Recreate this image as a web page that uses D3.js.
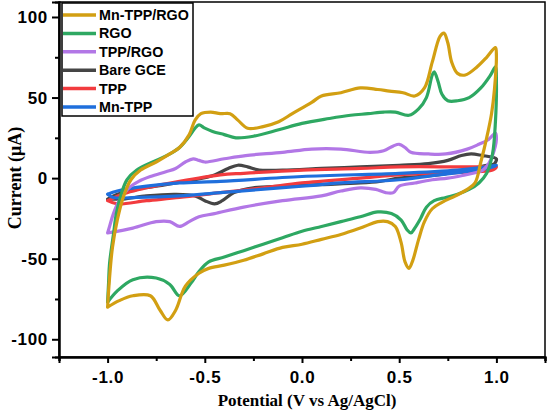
<!DOCTYPE html>
<html>
<head>
<meta charset="utf-8">
<script src="https://cdn.jsdelivr.net/npm/d3@7/dist/d3.min.js"></script>
<style>
body { margin: 0; background: #fff; }
svg { display: block; }
</style>
</head>
<body>
<svg id="chart" width="548" height="411"></svg>
<script>
// ---- Data (potential in V vs Ag/AgCl, current in µA), each a closed CV loop ----
const seriesNames = ["Mn-TPP/RGO", "RGO", "TPP/RGO", "Bare GCE", "TPP", "Mn-TPP"];
const seriesColors = ["#d29f12", "#2ea862", "#b277e6", "#454545", "#f23b3e", "#1f6fdc"];

const mnTppRgoX = [-1.0,-0.99,-0.975,-0.95,-0.92,-0.88,-0.83,-0.75,-0.68,-0.63,-0.58,-0.55,-0.52,-0.47,-0.42,-0.37,-0.33,-0.28,-0.2,-0.12,-0.05,0.05,0.1,0.2,0.3,0.39,0.45,0.52,0.58,0.63,0.67,0.71,0.73,0.75,0.77,0.8,0.84,0.9,0.95,0.995,
  1.0,0.99,0.975,0.95,0.92,0.89,0.85,0.79,0.72,0.67,0.63,0.6,0.57,0.55,0.53,0.51,0.48,0.44,0.39,0.3,0.2,0.1,0.0,-0.1,-0.2,-0.3,-0.4,-0.48,-0.53,-0.6,-0.65,-0.69,-0.73,-0.78,-0.87,-0.94,-1.0];
const mnTppRgoY = [-80,-62,-43,-26,-12,-1,5,10,15,19,27,36,40,41,40,40,36,31,32,35,40,47,51,53,56,55,54,53,51,56,72,88,90,84,72,65,64,69,75,81,
  76,55,40,25,10,-3,-7,-11,-15,-19,-27,-38,-51,-56,-52,-40,-30,-27,-27,-31,-35,-38,-41,-43,-47,-51,-54,-56,-59,-67,-82,-88,-82,-73,-73,-76,-80];

const rgoX = [-1.0,-0.995,-0.99,-0.97,-0.955,-0.93,-0.9,-0.85,-0.75,-0.68,-0.63,-0.58,-0.55,-0.53,-0.5,-0.46,-0.4,-0.34,-0.25,-0.12,0.0,0.14,0.25,0.34,0.42,0.48,0.55,0.6,0.64,0.67,0.68,0.7,0.72,0.75,0.8,0.86,0.92,0.97,0.995,
  1.0,0.995,0.98,0.95,0.91,0.86,0.8,0.74,0.68,0.64,0.61,0.58,0.56,0.54,0.51,0.46,0.39,0.3,0.2,0.1,0.0,-0.1,-0.2,-0.3,-0.4,-0.48,-0.53,-0.57,-0.63,-0.68,-0.75,-0.87,-0.95,-1.0];
const rgoY = [-77,-65,-53,-35,-22,-10,-1,5,11,15,19,26,31,33,31,29,27,25,26,30,34,37,39,40,41,41,39,43,50,64,66,60,52,48,48,50,56,64,69,
  60,35,15,3,-3,-7,-10,-12,-14,-18,-25,-31,-34,-32,-26,-22,-21,-24,-27,-30,-33,-37,-41,-45,-49,-52,-58,-65,-73,-66,-62,-63,-70,-77];

const tppRgoX = [-1.0,-0.99,-0.97,-0.94,-0.89,-0.84,-0.78,-0.7,-0.65,-0.6,-0.56,-0.53,-0.5,-0.4,-0.29,-0.1,0.05,0.2,0.35,0.42,0.47,0.5,0.53,0.56,0.65,0.74,0.85,0.91,0.96,0.995,
  1.0,0.98,0.96,0.93,0.88,0.84,0.75,0.67,0.58,0.5,0.47,0.43,0.38,0.3,0.2,0.1,-0.1,-0.3,-0.45,-0.53,-0.58,-0.63,-0.68,-0.75,-0.87,-1.0];
const tppRgoY = [-34,-30,-22,-14,-6,-2,1,4,6,10,12,11,10,12,14,16,18,18,16,17,20,21,19,16,15,15,18,21,24,28,
  24,14,9,5,3,2,0,-1,-3,-5,-9,-9,-7,-6,-8,-11,-14,-18,-22,-24,-27,-30,-27,-27,-31,-34];

const bareGceX = [-1.0,-0.95,-0.85,-0.7,-0.55,-0.45,-0.38,-0.33,-0.28,-0.22,-0.1,0.1,0.3,0.5,0.65,0.75,0.82,0.87,0.93,0.98,1.0,
  0.99,0.95,0.88,0.8,0.7,0.6,0.5,0.4,0.3,0.1,-0.1,-0.25,-0.35,-0.41,-0.45,-0.5,-0.55,-0.65,-0.8,-0.92,-1.0];
const bareGceY = [-13,-10,-7,-4,-1,2,6,8,7,5,5,6,7,8,9,11,14,15,14,13,12,
  9,8,6,4,2,1,0,-2,-3,-4,-5,-6,-9,-14,-16,-14,-11,-10,-11,-13,-13];

const tppX = [-1.0,-0.9,-0.8,-0.63,-0.42,-0.3,0.0,0.3,0.5,0.8,0.95,1.0,
  0.98,0.9,0.7,0.5,0.3,0.0,-0.2,-0.42,-0.63,-0.8,-0.95,-1.0];
const tppY = [-14,-9,-6,-2,2,3,5,6,7,7,7,7,
  5,4,3,2,0,-3,-6,-9,-12,-14,-16,-14];

const mnTppX = [-1.0,-0.95,-0.8,-0.63,-0.42,0.0,0.5,0.8,0.95,1.0,
  0.98,0.9,0.7,0.5,0.2,0.0,-0.42,-0.63,-0.85,-0.97,-1.0];
const mnTppY = [-10,-8,-5,-3,-2,1,3,5,7,8,
  7,5,2,-1,-3,-5,-9,-11,-12,-12,-10];

const xTicks = [-1.0, -0.5, 0.0, 0.5, 1.0];
const xMinorTicks = [-1.25, -0.75, -0.25, 0.25, 0.75, 1.25];
const yTicks = [-100, -50, 0, 50, 100];
const yMinorTicks = [-75, -25, 25, 75];

const allX = [mnTppRgoX, rgoX, tppRgoX, bareGceX, tppX, mnTppX];
const allY = [mnTppRgoY, rgoY, tppRgoY, bareGceY, tppY, mnTppY];

// ---- Layout ----
const svg = d3.select("#chart");
const L = 59, R = 545, T = 2, B = 357;
const x = d3.scaleLinear().domain([-1.25, 1.25]).range([L, R]);
const y = d3.scaleLinear().domain([-111, 109.3]).range([B, T]);

const fmtX = d => d.toFixed(1);
const fmtY = d => String(d);

const xAxis = d3.axisBottom(x).tickValues(xTicks).tickFormat(fmtX).tickSize(6).tickPadding(8);
const xMinor = d3.axisBottom(x).tickValues(xMinorTicks).tickFormat("").tickSize(4);
const yAxis = d3.axisLeft(y).tickValues(yTicks).tickFormat(fmtY).tickSize(7).tickPadding(4);
const yMinor = d3.axisLeft(y).tickValues(yMinorTicks).tickFormat("").tickSize(4);

// curves
const line = d3.line().x(d => x(d[0])).y(d => y(d[1])).curve(d3.curveCatmullRom.alpha(0.5));
const drawOrder = [3, 4, 5, 2, 1, 0];
const plotG = svg.append("g");
drawOrder.forEach(i => {
  const pts = allX[i].map((v, k) => [v, allY[i][k]]);
  pts.push(pts[0]);
  plotG.append("path")
    .attr("d", line(pts))
    .attr("fill", "none")
    .attr("stroke", seriesColors[i])
    .attr("stroke-width", 3.2)
    .attr("stroke-linejoin", "round")
    .attr("stroke-linecap", "round");
});

// frame
svg.append("rect").attr("x", L).attr("y", T).attr("width", R - L).attr("height", B - T)
  .attr("fill", "none").attr("stroke", "#000").attr("stroke-width", 1.5);

function styleAxis(g) {
  g.select(".domain").attr("stroke", "#000").attr("stroke-width", 2);
  g.selectAll(".tick line").attr("stroke", "#000").attr("stroke-width", 2);
  g.selectAll(".tick text").attr("fill", "#000")
    .style("font-family", "'Liberation Sans', Arial, sans-serif")
    .style("font-weight", "bold").style("font-size", "17px").style("letter-spacing", "0.7px");
}
svg.append("g").attr("transform", `translate(0,${B})`).call(xAxis).call(styleAxis);
svg.append("g").attr("transform", `translate(0,${B})`).call(xMinor).call(styleAxis);
svg.append("g").attr("transform", `translate(${L},0)`).call(yAxis).call(styleAxis);
svg.append("g").attr("transform", `translate(${L},0)`).call(yMinor).call(styleAxis);

// axis titles
svg.append("text").attr("x", 307).attr("y", 406).attr("text-anchor", "middle")
  .style("font-family", "'Liberation Serif', 'Times New Roman', serif")
  .style("font-weight", "bold").style("font-size", "17px")
  .text("Potential (V vs Ag/AgCl)");
svg.append("text").attr("transform", "translate(21,178) rotate(-90)").attr("text-anchor", "middle")
  .style("font-family", "'Liberation Serif', 'Times New Roman', serif")
  .style("font-weight", "bold").style("font-size", "18px")
  .text("Current (\u03BCA)");

// legend
const lg = svg.append("g");
lg.append("rect").attr("x", 62).attr("y", 3).attr("width", 131).attr("height", 113)
  .attr("fill", "#fff").attr("stroke", "#000").attr("stroke-width", 1.5);
seriesNames.forEach((n, i) => {
  const cy = 15 + i * 18.4;
  lg.append("line").attr("x1", 63).attr("x2", 96).attr("y1", cy).attr("y2", cy)
    .attr("stroke", seriesColors[i]).attr("stroke-width", 3.5);
  lg.append("text").attr("x", 99).attr("y", cy + 5)
    .style("font-family", "'Liberation Sans', Arial, sans-serif")
    .style("font-weight", "bold").style("font-size", "14.3px")
    .text(n);
});
</script>
</body>
</html>
